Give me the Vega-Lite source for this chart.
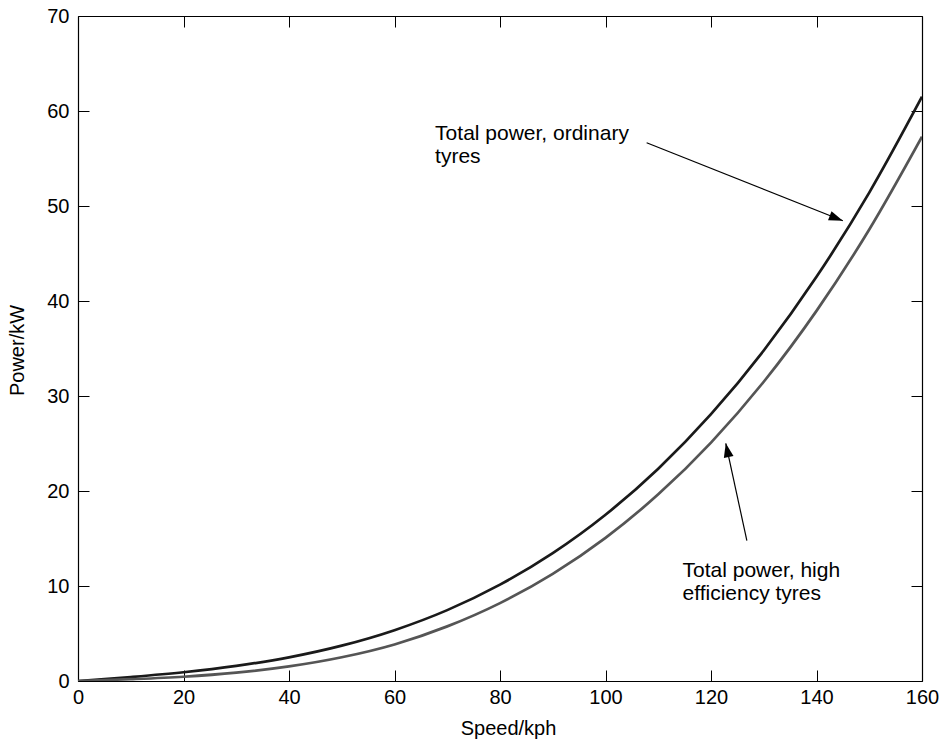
{
  "$schema": "https://vega.github.io/schema/vega-lite/v6.json",
  "width": 844,
  "height": 665,
  "autosize": {"type": "none"},
  "padding": {"left": 78, "top": 16, "right": 22, "bottom": 58},
  "background": "white",
  "config": {
    "view": {"stroke": null},
    "font": "Liberation Sans",
    "axis": {
      "grid": false,
      "domainColor": "black",
      "domainWidth": 1.2,
      "tickColor": "black",
      "tickWidth": 1,
      "tickSize": -11,
      "labelFont": "Liberation Sans",
      "labelFontSize": 20,
      "labelColor": "black",
      "titleFont": "Liberation Sans",
      "titleFontSize": 20,
      "titleFontWeight": "normal",
      "titleColor": "black",
      "labelFlush": false,
      "labelOverlap": false
    }
  },
  "datasets": {
    "curves": [
      {"speed": 0, "power": 0, "series": "ordinary"},
      {"speed": 10, "power": 0.42, "series": "ordinary"},
      {"speed": 20, "power": 0.92, "series": "ordinary"},
      {"speed": 30, "power": 1.59, "series": "ordinary"},
      {"speed": 40, "power": 2.49, "series": "ordinary"},
      {"speed": 50, "power": 3.72, "series": "ordinary"},
      {"speed": 60, "power": 5.35, "series": "ordinary"},
      {"speed": 70, "power": 7.46, "series": "ordinary"},
      {"speed": 80, "power": 10.14, "series": "ordinary"},
      {"speed": 90, "power": 13.46, "series": "ordinary"},
      {"speed": 100, "power": 17.5, "series": "ordinary"},
      {"speed": 110, "power": 22.35, "series": "ordinary"},
      {"speed": 120, "power": 28.09, "series": "ordinary"},
      {"speed": 130, "power": 34.79, "series": "ordinary"},
      {"speed": 140, "power": 42.54, "series": "ordinary"},
      {"speed": 150, "power": 51.41, "series": "ordinary"},
      {"speed": 160, "power": 61.5, "series": "ordinary"},
      {"speed": 0, "power": 0, "series": "high efficiency"},
      {"speed": 10, "power": 0.19, "series": "high efficiency"},
      {"speed": 20, "power": 0.45, "series": "high efficiency"},
      {"speed": 30, "power": 0.88, "series": "high efficiency"},
      {"speed": 40, "power": 1.54, "series": "high efficiency"},
      {"speed": 50, "power": 2.5, "series": "high efficiency"},
      {"speed": 60, "power": 3.85, "series": "high efficiency"},
      {"speed": 70, "power": 5.75, "series": "high efficiency"},
      {"speed": 80, "power": 8.2, "series": "high efficiency"},
      {"speed": 90, "power": 11.28, "series": "high efficiency"},
      {"speed": 100, "power": 15.07, "series": "high efficiency"},
      {"speed": 110, "power": 19.65, "series": "high efficiency"},
      {"speed": 120, "power": 25.1, "series": "high efficiency"},
      {"speed": 130, "power": 31.5, "series": "high efficiency"},
      {"speed": 140, "power": 38.96, "series": "high efficiency"},
      {"speed": 150, "power": 47.53, "series": "high efficiency"},
      {"speed": 160, "power": 57.3, "series": "high efficiency"}
    ],
    "arrows": [
      {"arrow": "a1", "x": 107.8, "y": 56.66, "x2": 145.0, "y2": 48.45},
      {"arrow": "a2", "x": 126.8, "y": 14.77, "x2": 122.8, "y2": 25.02}
    ],
    "labels": [
      {"x": 67.7, "y": 56.95, "text": "Total power, ordinary\ntyres"},
      {"x": 114.6, "y": 10.98, "text": "Total power, high\nefficiency tyres"}
    ]
  },
  "layer": [
    {
      "data": {"name": "curves"},
      "mark": {"type": "line", "strokeWidth": 2.7, "interpolate": "monotone", "clip": true},
      "encoding": {
        "x": {
          "field": "speed", "type": "quantitative",
          "scale": {"domain": [0, 160], "nice": false, "zero": false},
          "axis": {
            "orient": "bottom",
            "values": [0, 20, 40, 60, 80, 100, 120, 140, 160],
            "title": "Speed/kph",
            "labelPadding": 17,
            "titleX": 430, "titleY": 53,
            "titleAlign": "center", "titleBaseline": "alphabetic"
          }
        },
        "y": {
          "field": "power", "type": "quantitative",
          "scale": {"domain": [0, 70], "nice": false},
          "axis": {
            "orient": "left",
            "values": [0, 10, 20, 30, 40, 50, 60, 70],
            "title": "Power/kW",
            "labelPadding": 20,
            "titleAngle": -90,
            "titleX": -55, "titleY": 334,
            "titleAlign": "center", "titleBaseline": "alphabetic"
          }
        },
        "color": {
          "field": "series", "type": "nominal",
          "scale": {"domain": ["ordinary", "high efficiency"], "range": ["#1a1a1a", "#555555"]},
          "legend": null
        }
      }
    },
    {
      "data": {"name": "curves"},
      "mark": {"type": "point", "opacity": 0},
      "encoding": {
        "x": {
          "field": "speed", "type": "quantitative",
          "axis": {"orient": "top", "values": [0, 20, 40, 60, 80, 100, 120, 140, 160], "labels": false, "title": null}
        },
        "y": {
          "field": "power", "type": "quantitative",
          "axis": {"orient": "right", "values": [0, 10, 20, 30, 40, 50, 60, 70], "labels": false, "title": null}
        }
      }
    },
    {
      "data": {"name": "arrows"},
      "mark": {"type": "rule", "color": "black", "strokeWidth": 1.2},
      "encoding": {
        "x": {"field": "x", "type": "quantitative", "axis": null},
        "y": {"field": "y", "type": "quantitative", "axis": null},
        "x2": {"field": "x2"},
        "y2": {"field": "y2"}
      }
    },
    {
      "data": {"name": "arrows"},
      "transform": [{"filter": "datum.arrow === 'a1'"}],
      "mark": {"type": "point", "shape": "M0,0L-0.7,2L0.7,2Z", "size": 196, "filled": true, "color": "black", "opacity": 1, "angle": 110.7},
      "encoding": {
        "x": {"field": "x2", "type": "quantitative", "axis": null},
        "y": {"field": "y2", "type": "quantitative", "axis": null}
      }
    },
    {
      "data": {"name": "arrows"},
      "transform": [{"filter": "datum.arrow === 'a2'"}],
      "mark": {"type": "point", "shape": "M0,0L-0.7,2L0.7,2Z", "size": 196, "filled": true, "color": "black", "opacity": 1, "angle": 348},
      "encoding": {
        "x": {"field": "x2", "type": "quantitative", "axis": null},
        "y": {"field": "y2", "type": "quantitative", "axis": null}
      }
    },
    {
      "data": {"name": "labels"},
      "mark": {"type": "text", "align": "left", "baseline": "alphabetic", "fontSize": 21, "lineHeight": 23, "lineBreak": "\n", "font": "Liberation Sans", "color": "black"},
      "encoding": {
        "x": {"field": "x", "type": "quantitative", "axis": null},
        "y": {"field": "y", "type": "quantitative", "axis": null},
        "text": {"field": "text"}
      }
    }
  ],
  "resolve": {"axis": {"x": "independent", "y": "independent"}}
}
